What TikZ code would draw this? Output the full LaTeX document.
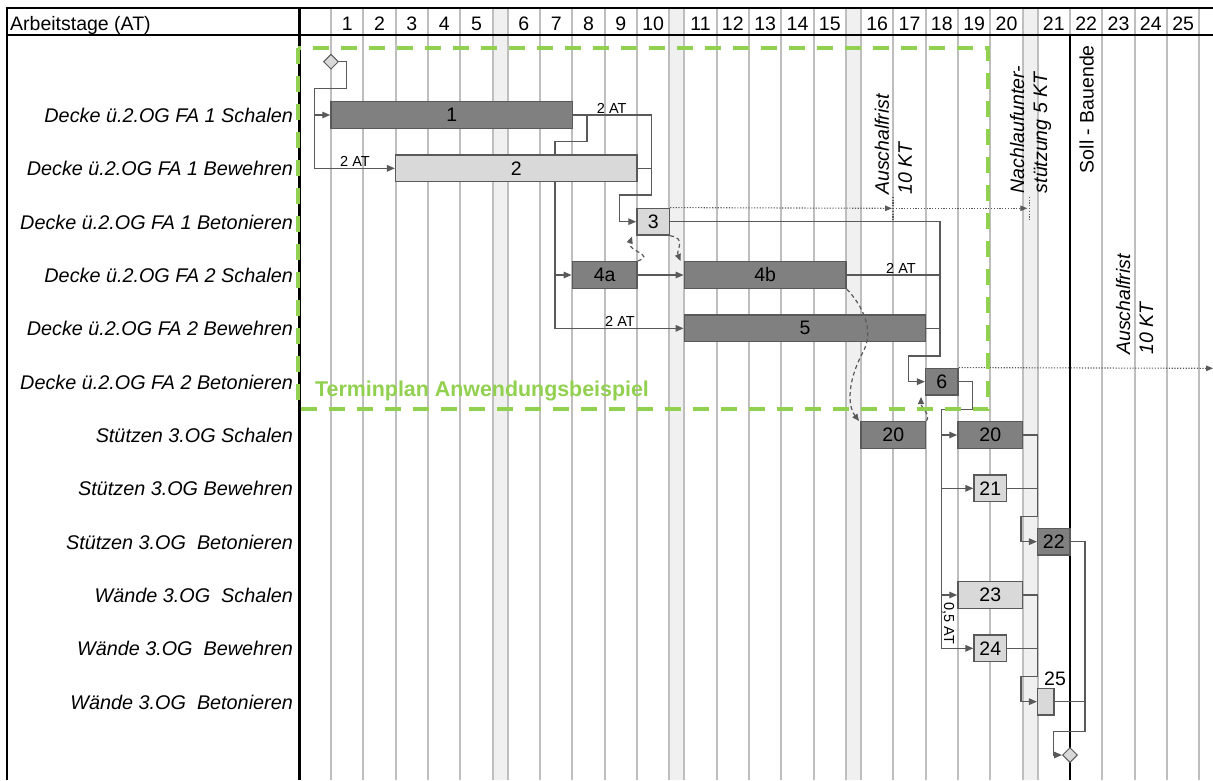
\documentclass[tikz,border=0pt]{standalone}
\usepackage{fontspec}
\setmainfont{Liberation Sans}
\usetikzlibrary{arrows.meta,shapes.geometric}
\definecolor{linec}{RGB}{89,89,89}
\definecolor{darkfill}{RGB}{128,128,128}
\definecolor{lightfill}{RGB}{217,217,217}
\definecolor{gridc}{RGB}{190,190,190}
\definecolor{bandc}{RGB}{240,240,240}
\definecolor{greenc}{RGB}{146,208,80}
\begin{document}
\begin{tikzpicture}[x=1pt,y=-1pt,
  bar/.style={draw=linec, line width=1.5pt, minimum height=26.67pt, inner sep=0pt, font=\fontsize{19.5}{22}\selectfont},
  darkbar/.style={bar, fill=darkfill},
  lightbar/.style={bar, fill=lightfill},
  conn/.style={draw=linec, line width=1.4pt},
  arr/.style={conn, -{Triangle[length=8pt,width=6.5pt]}},
  dashconn/.style={draw=linec, line width=1.2pt, dash pattern=on 4pt off 3pt, -{Triangle[length=7pt,width=6pt]}},
  dotconn/.style={draw=linec, line width=1.1pt, dash pattern=on 1.2pt off 1.6pt},
  dotarr/.style={dotconn, -{Triangle[length=7pt,width=5.5pt]}},
  rowlabel/.style={anchor=base east, font=\fontsize{19.8}{22}\selectfont\itshape, inner sep=0pt},
  hdr/.style={anchor=base, font=\fontsize{19.5}{22}\selectfont, inner sep=0pt},
  small/.style={font=\fontsize{14.5}{16}\selectfont, inner sep=0pt},
  vlabel/.style={rotate=90, anchor=west, align=left, inner sep=0pt, font=\fontsize{19.5}{23}\selectfont\itshape},
  ms/.style={diamond, draw=linec, fill=lightfill, line width=1pt, minimum size=15pt, inner sep=0pt},
  gridline/.style={draw=gridc, line width=1.8pt},
  frame/.style={draw=black, line width=2.5pt},
]
\useasboundingbox (0,0) rectangle (1213,780);
\fill[white] (0,0) rectangle (1213,780);
% weekend bands
\foreach \a/\b in {492.67/507.67, 669.33/684.33, 846/861, 1022.67/1037.67}
  \fill[bandc] (\a,8) rectangle (\b,780);
% grid lines
\foreach \x in {331,363.33,395.67,428,460.33,492.67,507.67,540,572.33,604.67,637,669.33,684.33,716.67,749,781.33,813.67,846,861,893.33,925.67,958,990.33,1022.67,1037.67,1070,1102.33,1134.67,1167,1199.33}
  \draw[gridline] (\x,8) -- (\x,780);
% frame
\draw[frame] (7,8) -- (1213,8);
\draw[frame] (7,35) -- (1213,35);
\draw[frame] (7,6.75) -- (7,780);
\draw[frame] (299.5,8) -- (299.5,780);
\draw[black, line width=1.3pt] (1070,35) -- (1070,780);
% header
\node[hdr, anchor=base west] (hd) at (10,30.5) {Arbeitstage (AT)};
\foreach \n/\c in {1/347.17,2/379.5,3/411.83,4/444.17,5/476.5,6/523.83,7/556.17,8/588.5,9/620.83,10/653.17,11/700.5,12/732.83,13/765.17,14/797.5,15/829.83,16/877.17,17/909.5,18/941.83,19/974.17,20/1006.5,21/1053.83,22/1086.17,23/1118.5,24/1150.83,25/1183.17}
  \node[hdr] (h\n) at (\c,30.5) {\n};
% row labels
\node[rowlabel] (l1) at (293,122.5) {Decke ü.2.OG FA 1 Schalen};
\node[rowlabel] (l2) at (293,175.83) {Decke ü.2.OG FA 1 Bewehren};
\node[rowlabel] (l3) at (293,229.17) {Decke ü.2.OG FA 1 Betonieren};
\node[rowlabel] (l4) at (293,282.5) {Decke ü.2.OG FA 2 Schalen};
\node[rowlabel] (l5) at (293,335.83) {Decke ü.2.OG FA 2 Bewehren};
\node[rowlabel] (l6) at (293,389.17) {Decke ü.2.OG FA 2 Betonieren};
\node[rowlabel] (l7) at (293,442.5) {Stützen 3.OG Schalen};
\node[rowlabel] (l8) at (293,495.83) {Stützen 3.OG Bewehren};
\node[rowlabel] (l9) at (293,549.17) {Stützen 3.OG\ \ Betonieren};
\node[rowlabel] (l10) at (293,602.5) {Wände 3.OG\ \ Schalen};
\node[rowlabel] (l11) at (293,655.83) {Wände 3.OG\ \ Bewehren};
\node[rowlabel] (l12) at (293,709.17) {Wände 3.OG\ \ Betonieren};
% bars
\node[darkbar, minimum width=241.33pt] (b1) at (451.67,115) {1};
\node[lightbar, minimum width=241.33pt] (b2) at (516.33,168.33) {2};
\node[lightbar, minimum width=32.33pt] (b3) at (653.17,221.67) {3};
\node[darkbar, minimum width=64.67pt] (b4a) at (604.67,275) {4a};
\node[darkbar, minimum width=161.67pt] (b4b) at (765.17,275) {4b};
\node[darkbar, minimum width=241.33pt] (b5) at (805,328.33) {5};
\node[darkbar, minimum width=32.33pt] (b6) at (941.83,381.67) {6};
\node[darkbar, minimum width=64.67pt] (b20a) at (893.33,435) {20};
\node[darkbar, minimum width=64.67pt] (b20b) at (990.33,435) {20};
\node[lightbar, minimum width=32.33pt] (b21) at (990.33,488.33) {21};
\node[darkbar, minimum width=32.33pt] (b22) at (1053.83,541.67) {22};
\node[lightbar, minimum width=64.67pt] (b23) at (990.33,595) {23};
\node[lightbar, minimum width=32.33pt] (b24) at (990.33,648.33) {24};
\node[lightbar, minimum width=16.17pt] (b25) at (1045.75,701.67) {};
\node[font=\fontsize{19.5}{22}\selectfont, inner sep=0pt] (l25) at (1055,678.3) {25};
\node[ms] (s) at (331,61.67) {};
\node[ms] (e) at (1070,755) {};
% connectors
\draw[arr] (s.east) -| (346.7,88.3) -- (314.3,88.3) |- (b2.west);
\draw[arr] (314.3,115) -- (b1.west);
\node[small] (t1) at (355,161.5) {2 AT};
\draw[arr] (b1.east) -- (651.7,115) -- (651.7,195) -| (619.3,221.67) -- (b3.west);
\draw[conn] (b2.east) -- (651.7,168.33);
\node[small] (t2) at (611.7,108.3) {2 AT};
\draw[conn] (587,115) -- (587,141.7) -- (555,141.7) -- (b2.north -| 555,0);
\draw[arr] (b2.south -| 555,0) |- (b5.west);
\draw[arr] (555,275) -- (b4a.west);
\node[small] (t3) at (620,321.7) {2 AT};
\draw[arr] (b4a.east) -- (b4b.west);
\draw[arr] (b3.east) -- (940,221.67) -- (940,356) -| (908.3,381.67) -- (b6.west);
\draw[conn] (b4b.east) -- (940,275);
\draw[conn] (b5.east) -- (940,328.33);
\node[small] (t4) at (901,268.5) {2 AT};
\draw[arr] (b6.east) -- (972.7,381.67) -- (972.7,409.3) -- (941.7,409.3) |- (b24.west);
\draw[arr] (941.7,435) -- (b20b.west);
\draw[arr] (941.7,488.33) -- (b21.west);
\draw[arr] (941.7,595) -- (b23.west);
\node[small, rotate=-90] (t5) at (948.3,623.3) {0,5 AT};
\draw[arr] (b20b.east) -- (1037.67,435) -- (1037.67,516.7) -| (1021,541.67) -- (b22.west);
\draw[conn] (b21.east) -- (1037.67,488.33);
\draw[arr] (b23.east) -- (1037.67,595) -- (1037.67,676.7) -| (1021,701.67) -- (b25.west);
\draw[conn] (b24.east) -- (1037.67,648.33);
\draw[arr] (b22.east) -- (1085,541.67) -- (1085,731.7) -| (1053.3,755) -- (e.west);
\draw[conn] (b25.east) -- (1085,701.67);
% dashed curves
\draw[dashconn] (b4a.north east) .. controls (656,255) and (627,251) .. (632,236.5);
\draw[dashconn] (b3.south east) .. controls (687,238) and (676,250) .. (680.5,261);
\draw[dashconn] (b4b.south east) .. controls (862,305) and (875,330) .. (863,352) .. controls (848,380) and (847,405) .. (859,421);
\draw[dashconn] (b20a.north east) .. controls (931,414) and (921,408) .. (921,397);
% dotted
\coordinate (m1) at (893,208.33);
\coordinate (m2) at (1029.3,208.33);
\draw[dotarr] (b3.north east) -- ([xshift=-1pt]m1);
\draw[dotconn] (893,196.7) -- (893,221.67);
\draw[dotarr] (m1) -- ([xshift=-2pt]m2);
\draw[dotconn] (1029.3,196.7) -- (1029.3,221.67);
\draw[dotarr] (b6.north east) -- (1213,368.33);
% vertical labels
\node[vlabel] (af1) at (893.3,195) {Auschalfrist\\10 KT};
\node[vlabel] (nl) at (1030.5,193.3) {Nachlaufunter-\\stützung 5 KT};
\node[vlabel, font=\fontsize{19.5}{23}\selectfont] (sb) at (1086.7,173.3) {Soll - Bauende};
\node[vlabel] (af2) at (1134.7,355) {Auschalfrist\\10 KT};
% green frame
\draw[greenc, line width=4pt, dash pattern=on 16pt off 12pt] (297.5,48.3) rectangle (988.3,409);
\node[anchor=base west, text=greenc, font=\fontsize{21.4}{24}\selectfont\bfseries, inner sep=0pt] (gt) at (315,396) {Terminplan Anwendungsbeispiel};
\end{tikzpicture}
\end{document}
